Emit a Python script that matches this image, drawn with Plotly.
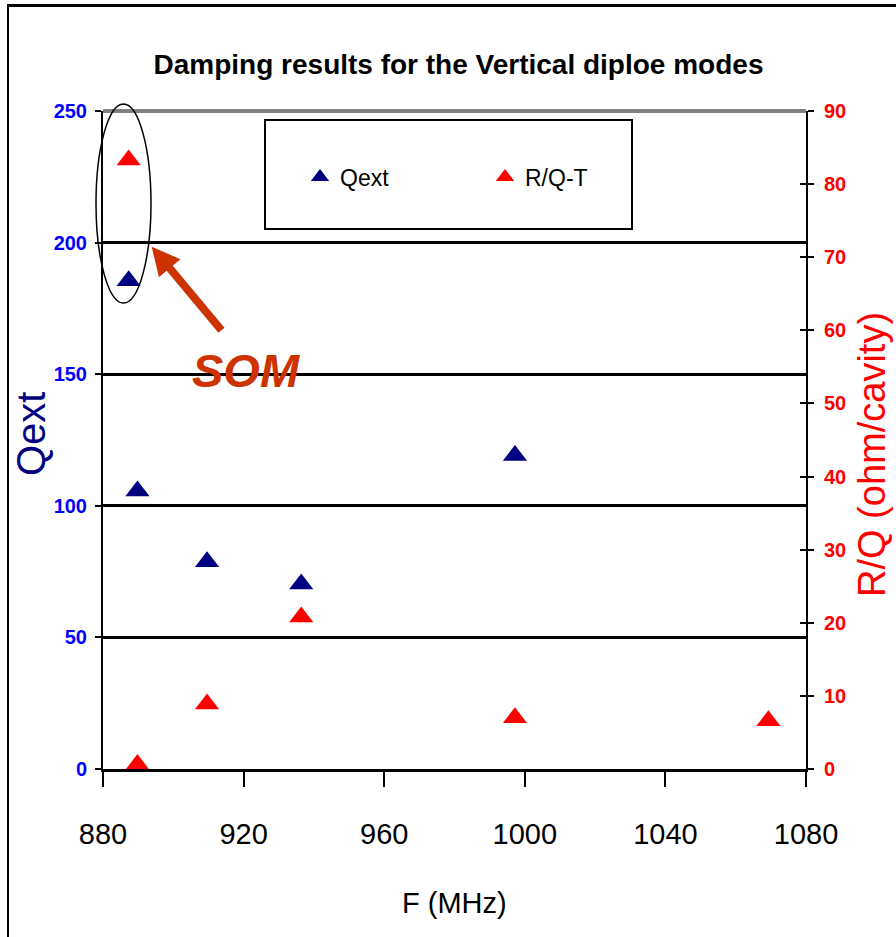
import plotly.graph_objects as go

# ---- data ----
freq_qext = [887.3, 889.8, 909.6, 936.4, 997.2]
qext = [185.5, 105.6, 78.7, 70.3, 119.1]

freq_rq = [887.3, 889.8, 909.6, 936.4, 997.2, 1069.3]
rq = [83.3, 0.6, 8.9, 20.8, 7.0, 6.6]

x_ticks = [880, 920, 960, 1000, 1040, 1080]
y_left_ticks = [0, 50, 100, 150, 200, 250]
y_right_ticks = [0, 10, 20, 30, 40, 50, 60, 70, 80, 90]

FONT = "Liberation Sans, Arial, sans-serif"
NAVY = "rgb(0,0,128)"
RED = "rgb(255,0,0)"
ORANGE = "rgb(204,51,0)"

fig = go.Figure()
fig.add_trace(go.Scatter(
    x=freq_qext, y=qext, mode="markers", name="Qext",
    marker=dict(symbol="triangle-up", size=21, color=NAVY),
    yaxis="y"))
fig.add_trace(go.Scatter(
    x=freq_rq, y=rq, mode="markers", name="R/Q-T",
    marker=dict(symbol="triangle-up", size=21, color=RED),
    yaxis="y2"))
# invisible helper trace for the inside half of the right cross ticks
fig.add_trace(go.Scatter(x=[880], y=[0], mode="markers", showlegend=False,
                         marker=dict(opacity=0), hoverinfo="skip", yaxis="y3"))

W, H = 896, 937
L, R, T, B = 103, 90, 111, 168
pw = W - L - R
ph = H - T - B

def px(xp):
    return (xp - L) / pw

def py(yp):
    return (H - B - yp) / ph

fig.update_layout(
    width=W, height=H,
    margin=dict(l=L, r=R, t=T, b=B, pad=0),
    paper_bgcolor="white", plot_bgcolor="white",
    showlegend=True,
    title=dict(text="Damping results for the Vertical diploe modes",
               x=458.5 / W, xanchor="center", xref="container",
               y=1 - 64 / H, yanchor="middle", yref="container",
               font=dict(family=FONT, size=28, color="black", weight="bold")),
    xaxis=dict(range=[880, 1080], tickvals=x_ticks, ticks="outside",
               ticklen=15, tickwidth=2, tickcolor="black",
               showline=True, linecolor="black", linewidth=3,
               showgrid=False, zeroline=False, automargin=False,
               tickfont=dict(family=FONT, size=29, color="black"),
               ticklabelstandoff=22),
    yaxis=dict(range=[0, 250], tickvals=y_left_ticks, ticks="outside",
               ticklen=6, tickwidth=2, tickcolor="black",
               showline=True, linecolor="black", linewidth=2,
               showgrid=True, gridcolor="black", gridwidth=2.5, zeroline=False,
               automargin=False, ticklabelstandoff=4,
               tickfont=dict(family=FONT, size=20, color="rgb(0,0,255)", weight="bold")),
    yaxis2=dict(range=[0, 90], tickvals=y_right_ticks, overlaying="y", side="right",
                anchor="x", ticks="outside", ticklen=6, tickwidth=2, tickcolor="black",
                showline=True, linecolor="black", linewidth=2,
                showgrid=False, zeroline=False, automargin=False,
                tickfont=dict(family=FONT, size=20, color=RED, weight="bold"),
                ticklabelstandoff=6),
    yaxis3=dict(range=[0, 90], tickvals=y_right_ticks, overlaying="y", side="right",
                anchor="x", ticks="inside", ticklen=6, tickwidth=2, tickcolor="black",
                showticklabels=False, showline=False, showgrid=False, zeroline=False,
                automargin=False),
    legend=dict(orientation="h", x=px(300), xanchor="left", y=py(177), yanchor="middle",
                bgcolor="rgba(0,0,0,0)", borderwidth=0,
                font=dict(family=FONT, size=23, color="black"),
                entrywidth=140, entrywidthmode="pixels", itemwidth=30),
)

shapes = [
    # gray top gridline at the top of the plot area (250)
    dict(type="line", xref="paper", yref="paper", x0=0, x1=1, y0=1, y1=1,
         line=dict(color="rgb(128,128,128)", width=4)),
    # legend box
    dict(type="rect", xref="paper", yref="paper", x0=px(265), x1=px(632),
         y0=py(229), y1=py(120), line=dict(color="black", width=2),
         fillcolor="white", layer="below"),
    # SOM ellipse
    dict(type="circle", xref="paper", yref="paper", x0=px(96), x1=px(151),
         y0=py(303), y1=py(104), line=dict(color="black", width=1.5)),
    # outer frame (top and left)
    dict(type="line", xref="paper", yref="paper", x0=px(7), x1=px(W), y0=py(5.5), y1=py(5.5),
         line=dict(color="black", width=3)),
    dict(type="line", xref="paper", yref="paper", x0=px(8), x1=px(8), y0=py(4), y1=py(H),
         line=dict(color="black", width=2)),
]
fig.update_layout(shapes=shapes)

# axis titles
fig.add_annotation(x=px(454), y=py(903), xref="paper", yref="paper",
                   xanchor="center", yanchor="middle",
                   text="F (MHz)", showarrow=False,
                   font=dict(family=FONT, size=29, color="black"))
fig.add_annotation(x=px(31), y=py(434), xref="paper", yref="paper",
                   xanchor="center", yanchor="middle",
                   text="Qext", showarrow=False, textangle=-90,
                   font=dict(family=FONT, size=40, color=NAVY))
fig.add_annotation(x=px(872), y=py(455), xref="paper", yref="paper",
                   xanchor="center", yanchor="middle",
                   text="R/Q (ohm/cavity)", showarrow=False, textangle=-90,
                   font=dict(family=FONT, size=38, color=RED))

# SOM arrow and label
fig.add_annotation(x=px(151.7), y=py(246.7), xref="paper", yref="paper",
                   text="", showarrow=True, ax=71, ay=85,
                   arrowcolor=ORANGE, arrowwidth=8, arrowhead=2, arrowsize=0.7,
                   standoff=0)
fig.add_annotation(x=px(246), y=py(370), xref="paper", yref="paper",
                   xanchor="center", yanchor="middle",
                   text="SOM", showarrow=False,
                   font=dict(family=FONT, size=47, color=ORANGE,
                             weight="bold", style="italic"))

fig.write_html("out.html", config={"displayModeBar": False},
               post_script="document.body.style.margin='0';document.body.style.padding='0';")
